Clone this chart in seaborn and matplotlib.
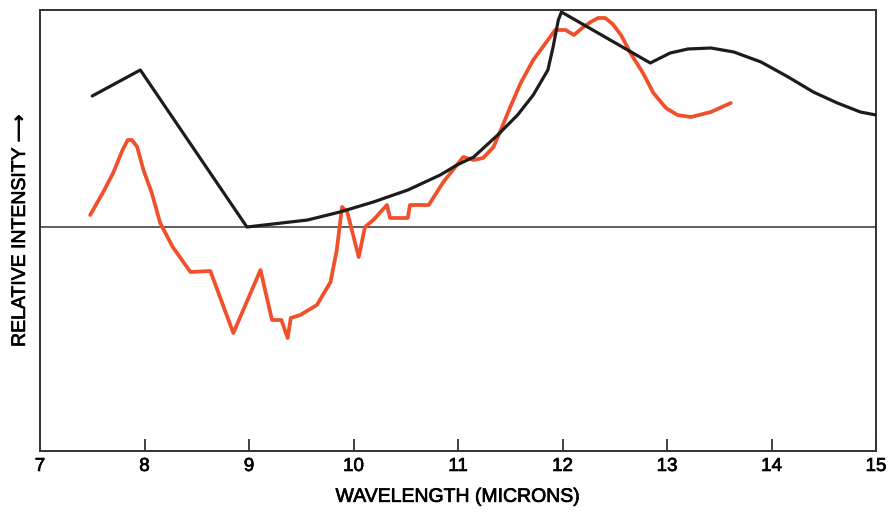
import matplotlib
matplotlib.use("Agg")
import matplotlib.pyplot as plt
import matplotlib.patheffects as pe
import pandas as pd
import seaborn as sns

# Theoretical (black) emission curve: wavelength in microns, relative intensity
black_wl = [7.50, 7.96, 8.98, 9.23, 9.56, 9.87, 10.19, 10.52, 10.83, 10.99, 11.15,
            11.38, 11.57, 11.72, 11.86, 11.91, 11.96, 11.99,
            12.84, 13.03, 13.20, 13.42, 13.64, 13.90, 14.16, 14.40, 14.63, 14.85, 15.00]
black_int = [6.55, 7.85, 0.00, 0.15, 0.35, 0.75, 1.25, 1.85, 2.60, 3.10, 3.50,
             4.60, 5.60, 6.60, 7.85, 9.00, 10.35, 10.75,
             8.20, 8.70, 8.90, 8.95, 8.75, 8.25, 7.50, 6.75, 6.20, 5.75, 5.60]

# Observed (red) spectrum
red_wl = [7.48, 7.60, 7.70, 7.79, 7.84, 7.88, 7.93, 7.99, 8.07, 8.15, 8.27, 8.44, 8.63,
          8.85, 9.11, 9.22, 9.31, 9.37, 9.40, 9.49, 9.65, 9.78, 9.84, 9.89, 9.94,
          10.05, 10.11, 10.19, 10.32, 10.35, 10.52, 10.54, 10.72, 10.86, 11.05,
          11.15, 11.24, 11.34, 11.41, 11.50, 11.60, 11.72, 11.86, 11.93, 12.03,
          12.11, 12.20, 12.27, 12.34, 12.41, 12.48, 12.56, 12.65, 12.77, 12.87,
          12.99, 13.10, 13.23, 13.42, 13.61]
red_int = [0.60, 1.70, 2.70, 3.85, 4.35, 4.35, 4.00, 2.85, 1.70, 0.20, -1.00, -2.25, -2.20,
           -5.30, -2.15, -4.65, -4.65, -5.55, -4.55, -4.40, -3.90, -2.75, -1.15, 1.00, 0.75,
           -1.50, 0.00, 0.35, 1.10, 0.45, 0.45, 1.10, 1.10, 2.25, 3.50,
           3.35, 3.45, 4.00, 4.85, 6.00, 7.20, 8.35, 9.35, 9.85, 9.85,
           9.60, 10.00, 10.25, 10.45, 10.45, 10.15, 9.60, 8.70, 7.70, 6.70,
           5.95, 5.60, 5.50, 5.75, 6.20]

x_ticks = [7, 8, 9, 10, 11, 12, 13, 14, 15]

black_df = pd.DataFrame({"wavelength": black_wl, "intensity": black_int})
red_df = pd.DataFrame({"wavelength": red_wl, "intensity": red_int})

sns.set_style("white")
plt.rcParams["font.family"] = ["Liberation Sans", "DejaVu Sans"]
plt.rcParams["text.color"] = "black"
plt.rcParams["axes.labelcolor"] = "black"
plt.rcParams["xtick.color"] = "#333333"
plt.rcParams["xtick.labelcolor"] = "black"

fig = plt.figure(figsize=(8.88, 5.14), dpi=100)
ax = fig.add_axes([40 / 888, 63 / 514, 836 / 888, 441 / 514])

ax.axhline(0, color="#333333", lw=1.1, zorder=1)
sns.lineplot(data=black_df, x="wavelength", y="intensity", sort=False,
             color="#1c1c1c", lw=2.3, ax=ax, zorder=3,
             solid_joinstyle="round", solid_capstyle="round")
sns.lineplot(data=red_df, x="wavelength", y="intensity", sort=False,
             color="#f0502a", lw=2.7, ax=ax, zorder=2,
             solid_joinstyle="round", solid_capstyle="round")

ax.set_xlim(7, 15)
ax.set_ylim(-11.2, 10.85)
ax.set_xticks(x_ticks)
ax.set_xticklabels([str(t) for t in x_ticks], fontsize=13.5)
ax.set_yticks([])
ax.tick_params(axis="x", direction="in", length=9, width=1.3,
               pad=5, bottom=True)
for s in ax.spines.values():
    s.set_color("#333333")
    s.set_linewidth(1.4)
    s.set_visible(True)

ax.set_xlabel("WAVELENGTH (MICRONS)", fontsize=14, labelpad=10)
ax.set_ylabel("RELATIVE INTENSITY \u27f6", fontsize=14, labelpad=8)

# slightly heavier lettering
heavy = [pe.withStroke(linewidth=0.5, foreground="black")]
for t in [ax.xaxis.label, ax.yaxis.label] + ax.get_xticklabels():
    t.set_path_effects(heavy)

fig.savefig("out.png", dpi=100, facecolor="white")
